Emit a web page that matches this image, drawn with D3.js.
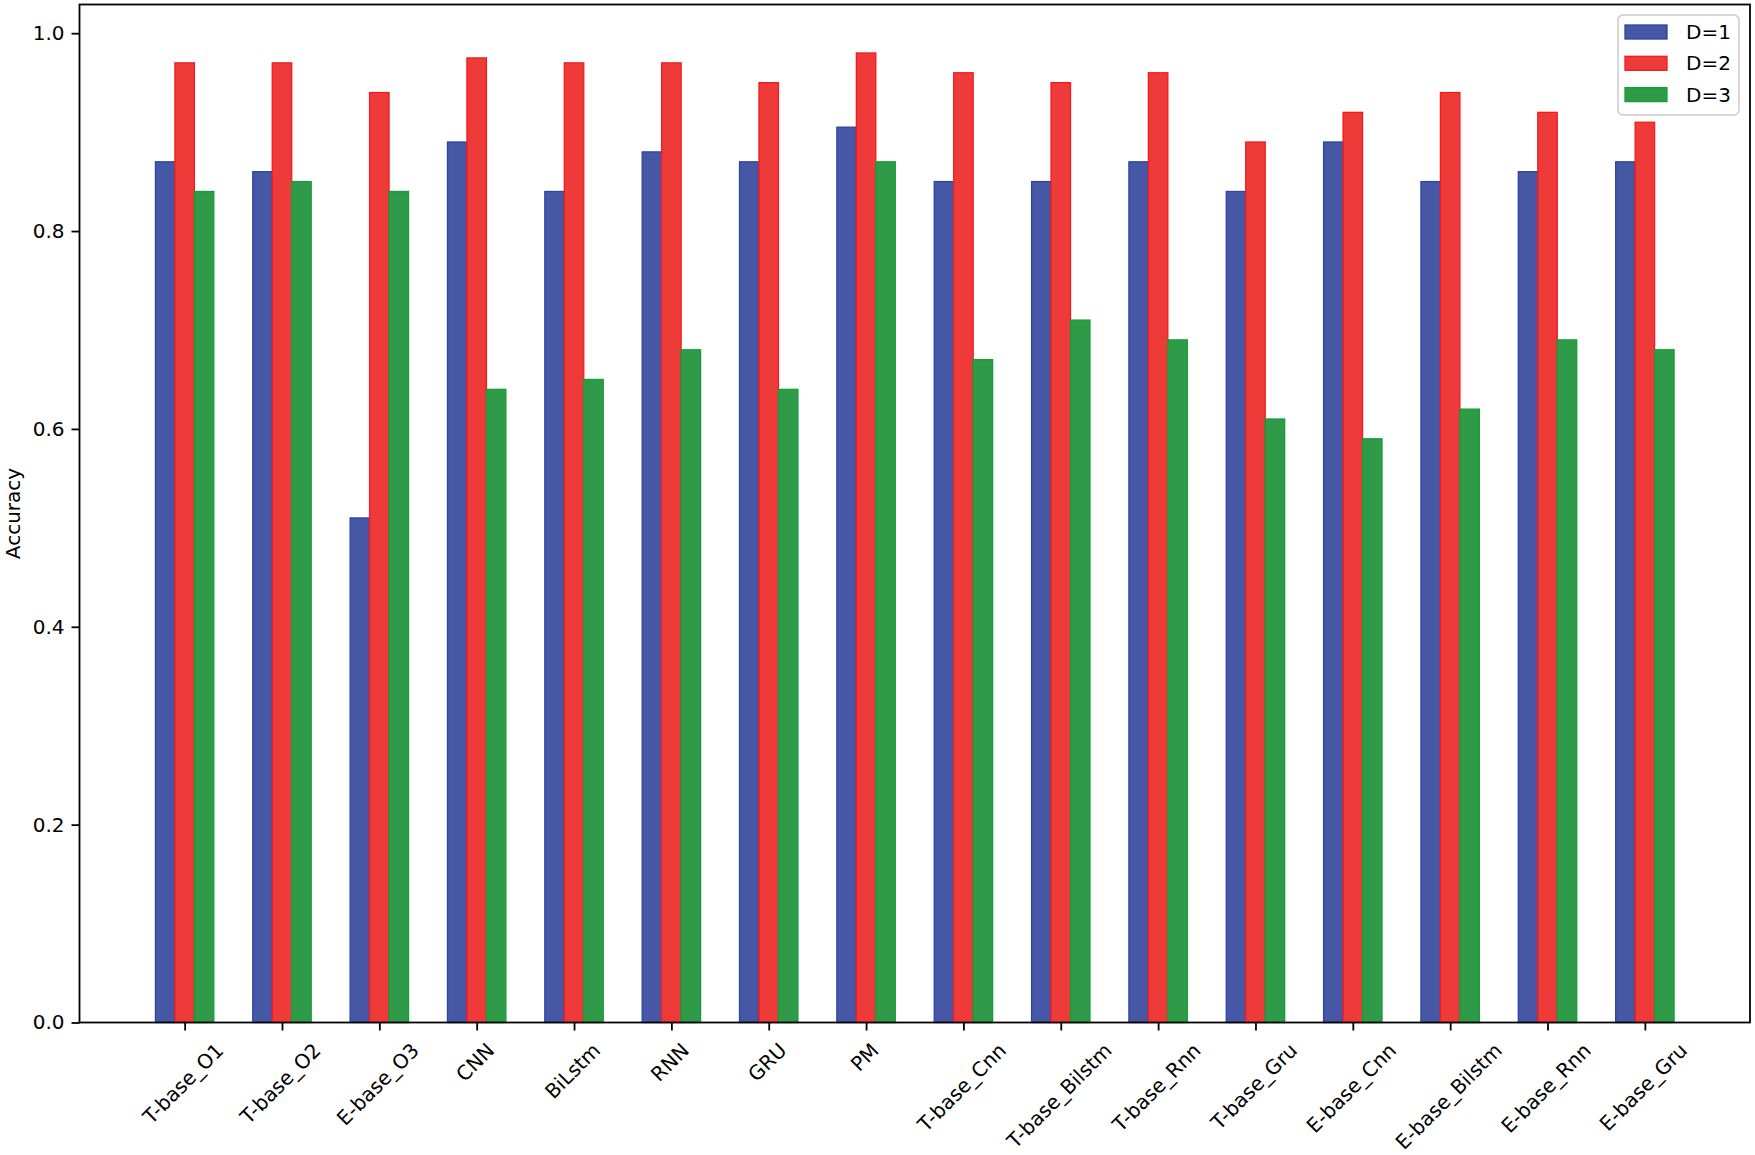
<!DOCTYPE html>
<html>
<head>
<meta charset="utf-8">
<script src="https://cdn.jsdelivr.net/npm/d3@7/dist/d3.min.js"></script>
<style>
  html, body { margin: 0; padding: 0; background: #fff; }
  svg text { font-family: "DejaVu Sans", sans-serif; fill: #000; }
</style>
</head>
<body>
<svg id="chart" width="1755" height="1155"></svg>
<script>
const categories = ["T-base_O1","T-base_O2","E-base_O3","CNN","BiLstm","RNN","GRU","PM",
  "T-base_Cnn","T-base_Bilstm","T-base_Rnn","T-base_Gru","E-base_Cnn","E-base_Bilstm","E-base_Rnn","E-base_Gru"];
const seriesNames = ["D=1","D=2","D=3"];
const d1 = [0.87,0.86,0.51,0.89,0.84,0.88,0.87,0.905,0.85,0.85,0.87,0.84,0.89,0.85,0.86,0.87];
const d2 = [0.97,0.97,0.94,0.975,0.97,0.97,0.95,0.98,0.96,0.95,0.96,0.89,0.92,0.94,0.92,0.91];
const d3v = [0.84,0.85,0.84,0.64,0.65,0.68,0.64,0.87,0.67,0.71,0.69,0.61,0.59,0.62,0.69,0.68];
const yTicks = [0.0,0.2,0.4,0.6,0.8,1.0];
const yLabel = "Accuracy";

const fills = ["#4657a6","#ef3a3a","#2f9a47"];
const edges = ["#2a45a2","#f21c1c","#13a03a"];
const series = [d1,d2,d3v];

const svg = d3.select("#chart");
const L = 79.5, R = 1750, T = 4.5, B = 1022.5;
const barW = 0.2;
const x = d3.scaleLinear().domain([-1.08, 16.08]).range([L, R]);
const y = d3.scaleLinear().domain([0, 1.029]).range([B, T]);
const FS = 20;

// bars
series.forEach((vals, s) => {
  const off = (s - 1) * barW;
  svg.append("g").selectAll("rect").data(vals).join("rect")
    .attr("x", (d, i) => x(i + off - barW / 2))
    .attr("width", x(barW) - x(0))
    .attr("y", d => y(d))
    .attr("height", d => y(0) - y(d))
    .attr("fill", fills[s])
    .attr("stroke", edges[s])
    .attr("stroke-width", 1.3);
});

// y axis
const yAxis = d3.axisLeft(y).tickValues(yTicks).tickFormat(d3.format(".1f")).tickSize(8).tickPadding(7);
const gy = svg.append("g").attr("transform", `translate(${L},0)`).call(yAxis);
gy.select(".domain").remove();
gy.selectAll(".tick line").attr("stroke", "#000").attr("stroke-width", 1.8);
gy.selectAll(".tick text").attr("font-size", FS).attr("font-family", "DejaVu Sans");

// x axis
const xAxis = d3.axisBottom(x).tickValues(d3.range(categories.length)).tickFormat(i => categories[i]).tickSize(8);
const gx = svg.append("g").attr("transform", `translate(0,${B})`).call(xAxis);
gx.select(".domain").remove();
gx.selectAll(".tick line").attr("stroke", "#000").attr("stroke-width", 1.8);
const h = 1.164 * FS;
gx.selectAll(".tick text")
  .attr("font-size", FS).attr("font-family", "DejaVu Sans")
  .attr("text-anchor", "middle").attr("dominant-baseline", "central")
  .attr("dy", null).attr("y", null)
  .each(function() {
    const len = this.getComputedTextLength();
    const H = (len + h) * Math.SQRT1_2;
    d3.select(this).attr("transform", `translate(-2,${16 + H / 2}) rotate(-45)`);
  });

// spines
svg.append("rect").attr("x", L).attr("y", T).attr("width", R - L).attr("height", B - T)
  .attr("fill", "none").attr("stroke", "#000").attr("stroke-width", 1.8);

// y label
svg.append("text").attr("transform", `translate(13,${(T + B) / 2}) rotate(-90)`)
  .attr("text-anchor", "middle").attr("dominant-baseline", "central")
  .attr("font-size", FS).text(yLabel);

// legend
const lg = svg.append("g");
lg.append("rect").attr("x", 1618).attr("y", 15).attr("width", 121).attr("height", 100)
  .attr("rx", 5).attr("fill", "#fff").attr("fill-opacity", 0.8)
  .attr("stroke", "#cccccc").attr("stroke-width", 1.5);
seriesNames.forEach((n, s) => {
  const cy = 32 + s * 31.3;
  lg.append("rect").attr("x", 1625).attr("y", cy - 7).attr("width", 42).attr("height", 14)
    .attr("fill", fills[s]).attr("stroke", edges[s]).attr("stroke-width", 1.3);
  lg.append("text").attr("x", 1686).attr("y", cy).attr("dominant-baseline", "central")
    .attr("font-size", FS).text(n);
});
</script>
</body>
</html>
